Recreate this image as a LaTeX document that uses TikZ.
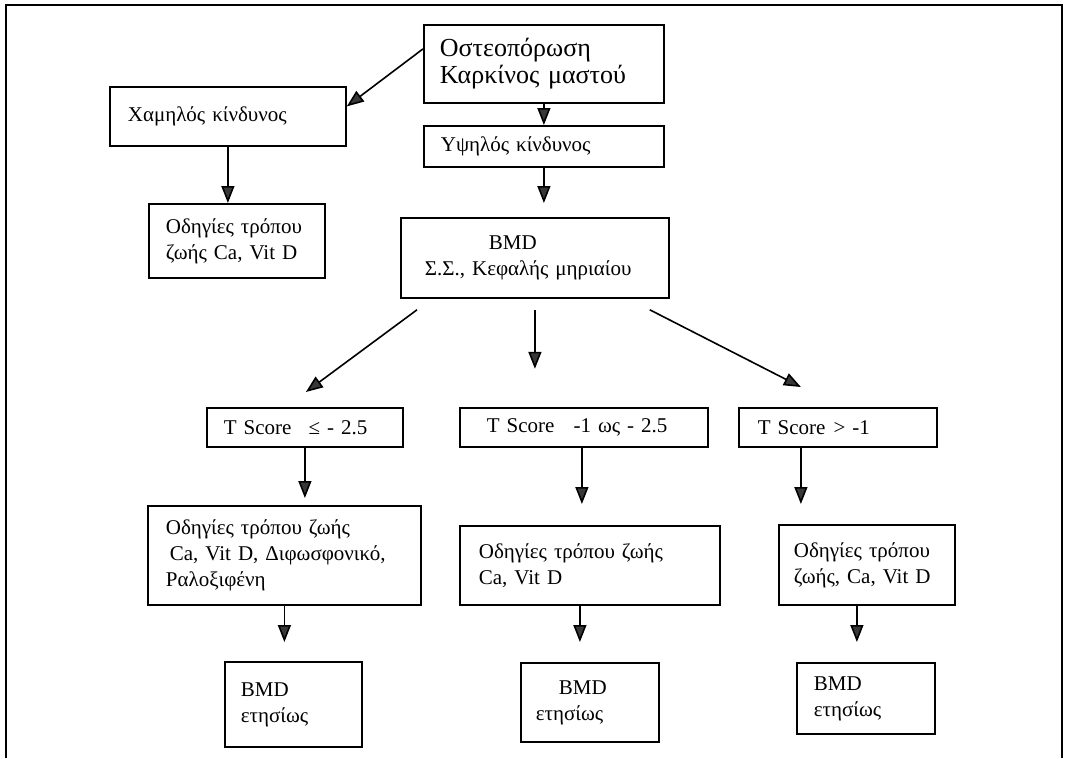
\documentclass[tikz,border=0pt]{standalone}
\usepackage{fontspec}
\setmainfont{Liberation Serif}
\usetikzlibrary{arrows.meta,calc}
\newcommand{\ml}[1]{\mbox{#1}}
\begin{document}
\begin{tikzpicture}[x=1pt,y=-1pt,
  box/.style={draw, line width=1.8pt, anchor=north west, align=left, inner ysep=0pt,
              font=\fontsize{21}{26}\selectfont},
  arr/.style={line width=1.6pt, -{Triangle[length=17pt,width=13pt,fill=black!78]}},
  frame/.style={line width=2.2pt}]
\useasboundingbox (0,0) rectangle (1071,758);
\draw[frame] (6,758) -- (6,5) -- (1062,5) -- (1062,758);

% nodes
\node[box, minimum width=240pt, minimum height=78pt, text width=208pt, inner xsep=16pt,
      font=\fontsize{26}{27}\selectfont] (title) at (423,24)
      {\ml{Οστεοπόρωση}\\\ml{Καρκίνος μαστού}};
\node[box, minimum width=240pt, minimum height=41pt, text width=206pt, inner xsep=17pt] (high) at (423,125)
      {\ml{Υψηλός κίνδυνος}};
\node[box, minimum width=236pt, minimum height=59pt, text width=200pt, inner xsep=18pt] (low) at (109,86)
      {\ml{Χαμηλός κίνδυνος}};
\node[box, minimum width=176pt, minimum height=74pt, text width=142pt, inner xsep=17pt] (life0) at (148,203)
      {\ml{Οδηγίες τρόπου}\\\ml{ζωής Ca, Vit D}};
\node[box, minimum width=268pt, minimum height=80pt, text width=220pt, inner xsep=24pt] (bmd) at (400,217)
      {\ml{\hspace*{64pt}BMD}\\\ml{Σ.Σ., Κεφαλής μηριαίου}};
\node[box, minimum width=196pt, minimum height=39pt, text width=162pt, inner xsep=17pt] (t1) at (206,407)
      {\ml{T Score\hspace{17pt}≤ - 2.5}};
\node[box, minimum width=248pt, minimum height=39pt, text width=194pt, inner xsep=27pt] (t2) at (459,407)
      {\ml{T Score\hspace{19pt}-1 ως - 2.5}};
\node[box, minimum width=198pt, minimum height=39pt, text width=160pt, inner xsep=19pt] (t3) at (738,407)
      {\ml{T Score\hspace{8pt}> -1}};
\node[box, minimum width=273pt, minimum height=99pt, text width=237pt, inner xsep=18pt] (life1) at (147,505)
      {\ml{Οδηγίες τρόπου ζωής}\\\ml{\hspace*{4pt}Ca, Vit D, Διφωσφονικό,}\\\ml{Ραλοξιφένη}};
\node[box, minimum width=260pt, minimum height=79pt, text width=222pt, inner xsep=19pt] (life2) at (459,525)
      {\ml{Οδηγίες τρόπου ζωής}\\\ml{Ca, Vit D}};
\node[box, minimum width=176pt, minimum height=80pt, text width=146pt, inner xsep=15pt] (life3) at (778,524)
      {\ml{Οδηγίες τρόπου}\\\ml{ζωής, Ca, Vit D}};
\node[box, minimum width=137pt, minimum height=85pt, text width=105pt, inner xsep=16pt] (ann1) at (224,661)
      {\ml{BMD}\\\ml{ετησίως}};
\node[box, minimum width=138pt, minimum height=79pt, text width=108pt, inner xsep=15pt] (ann2) at (520,662)
      {\ml{\hspace*{23pt}BMD}\\\ml{ετησίως}};
\node[box, minimum width=138pt, minimum height=71pt, text width=104pt, inner xsep=17pt] (ann3) at (796,662)
      {\ml{BMD}\\\ml{ετησίως}};

% helper coordinates
\coordinate (a1s) at ($(title.west)+(0,-15)$);
\coordinate (a1e) at ($(low.east)+(0,-10)$);
\coordinate (b1s) at ($(bmd.south west)+(17,11)$);
\coordinate (b1e) at ($(t1.north)+(1,-15)$);
\coordinate (b2s) at ($(bmd.south)+(0,11)$);
\coordinate (b2e) at ($(bmd.south)+(0,70)$);
\coordinate (b3s) at ($(bmd.south east)+(-20,11)$);
\coordinate (b3e) at ($(t3.north)+(-37,-20)$);
\coordinate (t2s) at ($(t2.south)+(-2,0)$);
\coordinate (t3s) at ($(t3.south)+(-37,0)$);
\coordinate (l2s) at ($(life2.south)+(-10,0)$);
\coordinate (l3s) at ($(life3.south)+(-10,0)$);

% connectors
\draw[arr] (a1s) -- (a1e);
\draw[arr] (title.south) -- (high.north);
\draw[arr] (low.south) -- (low.south |- life0.north);
\draw[arr, shorten >=14pt] (high.south) -- (high.south |- bmd.north);
\draw[arr] (b1s) -- (b1e);
\draw[arr] (b2s) -- (b2e);
\draw[arr] (b3s) -- (b3e);
\draw[arr, shorten >=7pt] (t1.south) -- (t1.south |- life1.north);
\draw[arr, shorten >=21pt] (t2s) -- (t2s |- life2.north);
\draw[arr, shorten >=20pt] (t3s) -- (t3s |- life3.north);
\draw[arr, shorten >=19pt] (life1.south) -- (life1.south |- ann1.north);
\draw[arr, shorten >=20pt] (l2s) -- (l2s |- ann2.north);
\draw[arr, shorten >=20pt] (l3s) -- (l3s |- ann3.north);
\end{tikzpicture}
\end{document}
